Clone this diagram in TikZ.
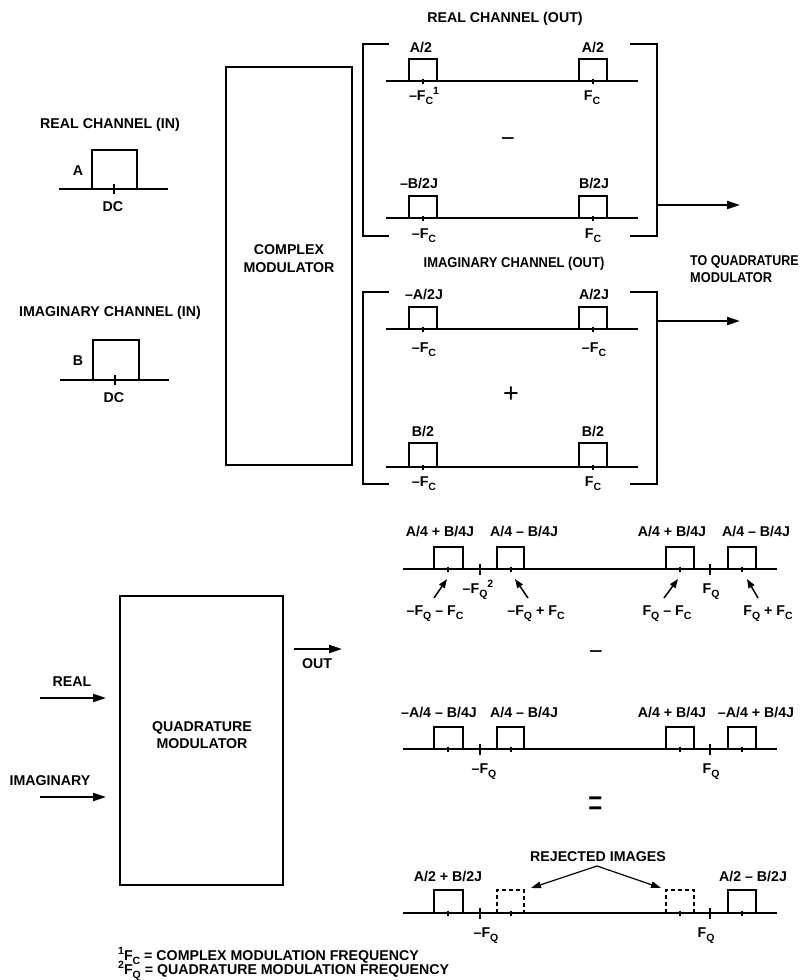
\documentclass[tikz,border=0pt]{standalone}
\usepackage{fontspec}
\usepackage{graphicx}
\setmainfont{Liberation Sans}
\newfontfamily\opfont{Liberation Sans}
\usetikzlibrary{arrows.meta}
\newcommand\lbfont{\fontsize{14.2}{18}\selectfont\bfseries}
\newcommand\sbs[1]{\raisebox{-0.3em}{\fontsize{10.5}{10}\selectfont\bfseries #1}}
\newcommand\sps[1]{\raisebox{0.42em}{\fontsize{10.5}{10}\selectfont\bfseries #1}}
\newcommand\pls[4]{\draw[ln] (#1,#4) -- (#1,#3) -- (#2,#3) -- (#2,#4);}
\newcommand\dpls[4]{\draw[ln,dashed,dash pattern=on 4pt off 3pt] (#1,#4) -- (#1,#3) -- (#2,#3) -- (#2,#4);}
\newcommand\stk[2]{\draw[tk] (#1,#2-2.5) -- (#1,#2+2.5);}
\newcommand\btk[2]{\draw[tk,line width=1.4pt] (#1,#2-5.5) -- (#1,#2+5.5);}
\begin{document}
\begin{tikzpicture}[x=1pt,y=-1pt,
  lbl/.style={font=\lbfont, inner sep=0pt, align=center},
  ln/.style={line width=2pt},
  tk/.style={line width=1.1pt},
  arr/.style={line width=2pt, -{Triangle[length=13pt,width=8pt]}},
  sarr/.style={line width=1.5pt, -{Triangle[length=9pt,width=6.5pt]}},
  rarr/.style={line width=1.2pt, -{Triangle[length=10pt,width=6.5pt]}},
  op/.style={font=\opfont\fontsize{24}{24}\selectfont, inner sep=0pt}]
\useasboundingbox (0,0) rectangle (807,980);

% ---------- input spectra ----------
\node[lbl] (rin) at (110,125) {REAL CHANNEL (IN)};
\draw[ln] (59,189) -- (168,189);
\pls{92}{137}{150}{189}
\draw[tk] (114,184) -- (114,194);
\node[lbl,anchor=base] (ra) at (78,175) {A};
\node[lbl,anchor=base] (rdc) at (113,211) {DC};

\node[lbl] (iin) at (110,313) {IMAGINARY CHANNEL (IN)};
\draw[ln] (60,380) -- (169,380);
\pls{93}{139}{340}{380}
\draw[tk] (115,375) -- (115,385);
\node[lbl,anchor=base] (ib) at (78,365) {B};
\node[lbl,anchor=base] (idc) at (114,402) {DC};

% ---------- complex modulator ----------
\node[draw,ln,minimum width=126pt,minimum height=398pt,inner sep=0pt] (cm) at (289,266) {};
\node[lbl] (cmlbl) at (289,259) {COMPLEX\\MODULATOR};

% ---------- real channel out ----------
\node[lbl] (rout) at (505,19) {REAL CHANNEL (OUT)};
\draw[ln] (389,44) -- (363,44) -- (363,236) -- (389,236);
\draw[ln] (630,44) -- (657,44) -- (657,236) -- (630,236);
\draw[ln] (386,81) -- (638,81);
\pls{409}{437}{59}{81}
\pls{579}{607}{59}{81}
\stk{423}{81}\stk{593}{81}
\node[lbl,anchor=base] (r1) at (421,52) {A/2};
\node[lbl,anchor=base] (r2) at (593,52) {A/2};
\node[lbl,anchor=base] (r3) at (424,100) {–F\sbs{C}\sps{1}};
\node[lbl,anchor=base] (r4) at (592,100) {F\sbs{C}};
\node[op] (rminus) at (508,142) {−};
\draw[ln] (386,218) -- (638,218);
\pls{409}{437}{196}{218}
\pls{579}{607}{196}{218}
\stk{423}{218}\stk{593}{218}
\node[lbl,anchor=base] (r5) at (419,188) {–B/2J};
\node[lbl,anchor=base] (r6) at (594,188) {B/2J};
\node[lbl,anchor=base] (r7) at (424,238) {–F\sbs{C}};
\node[lbl,anchor=base] (r8) at (593,238) {F\sbs{C}};
\coordinate (rb) at (657,205);
\coordinate (rq) at (740,205);
\draw[arr] (rb) -- (rq);

% ---------- imaginary channel out ----------
\node[lbl] (iout) at (514,264) {\scalebox{0.915}[1]{IMAGINARY CHANNEL (OUT)}};
\node[lbl,anchor=base west] (tq1) at (690,265) {\scalebox{0.88}[1]{TO QUADRATURE}};
\node[lbl,anchor=base west] (tq2) at (690,282) {\scalebox{0.9}[1]{MODULATOR}};
\draw[ln] (389,292) -- (363,292) -- (363,484) -- (389,484);
\draw[ln] (630,292) -- (657,292) -- (657,484) -- (630,484);
\draw[ln] (386,329) -- (638,329);
\pls{409}{437}{307}{329}
\pls{579}{607}{307}{329}
\stk{423}{329}\stk{593}{329}
\node[lbl,anchor=base] (i1) at (424,299) {–A/2J};
\node[lbl,anchor=base] (i2) at (594,299) {A/2J};
\node[lbl,anchor=base] (i3) at (424,352) {–F\sbs{C}};
\node[lbl,anchor=base] (i4) at (594,352) {–F\sbs{C}};
\node[op,font=\opfont\fontsize{27}{27}\selectfont] (iplus) at (511,395) {+};
\draw[ln] (386,467) -- (638,467);
\pls{409}{437}{443}{467}
\pls{579}{607}{443}{467}
\stk{423}{467}\stk{593}{467}
\node[lbl,anchor=base] (i5) at (423,436) {B/2};
\node[lbl,anchor=base] (i6) at (593,436) {B/2};
\node[lbl,anchor=base] (i7) at (424,486) {–F\sbs{C}};
\node[lbl,anchor=base] (i8) at (593,486) {F\sbs{C}};
\coordinate (ib0) at (657,321);
\coordinate (iq) at (740,321);
\draw[arr] (ib0) -- (iq);

% ---------- quadrature modulator ----------
\node[draw,ln,minimum width=163pt,minimum height=289pt,inner sep=0pt] (qm) at (201.5,740.5) {};
\node[lbl,font=\fontsize{14.2}{17}\selectfont\bfseries] (qmlbl) at (202,735.5) {QUADRATURE\\MODULATOR};
\node[lbl] (real) at (72,682) {REAL};
\coordinate (re0) at (40,698);
\coordinate (re1) at (106,698);
\draw[arr] (re0) -- (re1);
\node[lbl] (imag) at (50,781) {IMAGINARY};
\coordinate (im0) at (40,797);
\coordinate (im1) at (106,797);
\draw[arr] (im0) -- (im1);
\coordinate (out0) at (294,649);
\coordinate (out1) at (342,649);
\draw[arr] (out0) -- (out1);
\node[lbl] (outlbl) at (317,664) {OUT};

% ---------- spectrum row 1 ----------
\node[lbl,anchor=base] (q1) at (440,536) {A/4 + B/4J};
\node[lbl,anchor=base] (q2) at (524,536) {A/4 – B/4J};
\node[lbl,anchor=base] (q3) at (672,536) {A/4 + B/4J};
\node[lbl,anchor=base] (q4) at (756,536) {A/4 – B/4J};
\draw[ln] (403,569) -- (777,569);
\pls{434}{463}{547}{569}\pls{497}{524}{547}{569}\pls{666}{694}{547}{569}\pls{728}{756}{547}{569}
\stk{448}{569}\stk{511}{569}\stk{680}{569}\stk{742}{569}
\btk{480}{569}\btk{710}{569}
\node[lbl,anchor=base] (fq1) at (478,593) {–F\sbs{Q}\sps{2}};
\node[lbl,anchor=base] (fq2) at (711,593) {F\sbs{Q}};
\node[lbl,anchor=base] (a1) at (435,615) {–F\sbs{Q} – F\sbs{C}};
\node[lbl,anchor=base] (a2) at (536,615) {–F\sbs{Q} + F\sbs{C}};
\node[lbl,anchor=base] (a3) at (667,615) {F\sbs{Q} – F\sbs{C}};
\node[lbl,anchor=base] (a4) at (768,615) {F\sbs{Q} + F\sbs{C}};
\coordinate (p1) at (434,598);\coordinate (t1) at (447,579);
\coordinate (p2) at (528,598);\coordinate (t2) at (515,579);
\coordinate (p3) at (664,598);\coordinate (t3) at (678,579);
\coordinate (p4) at (758,598);\coordinate (t4) at (747,579);
\draw[sarr] (p1) -- (t1);
\draw[sarr] (p2) -- (t2);
\draw[sarr] (p3) -- (t3);
\draw[sarr] (p4) -- (t4);
\node[op] (qminus) at (596,655) {−};

% ---------- spectrum row 2 ----------
\node[lbl,anchor=base] (s1) at (439,717) {–A/4 – B/4J};
\node[lbl,anchor=base] (s2) at (524,717) {A/4 – B/4J};
\node[lbl,anchor=base] (s3) at (672,717) {A/4 + B/4J};
\node[lbl,anchor=base] (s4) at (756,717) {–A/4 + B/4J};
\draw[ln] (403,749) -- (777,749);
\pls{434}{463}{727}{749}\pls{497}{524}{727}{749}\pls{666}{694}{727}{749}\pls{728}{756}{727}{749}
\stk{448}{749}\stk{511}{749}\stk{680}{749}\stk{742}{749}
\btk{480}{749}\btk{710}{749}
\node[lbl,anchor=base] (fq3) at (484,773) {–F\sbs{Q}};
\node[lbl,anchor=base] (fq4) at (711,773) {F\sbs{Q}};
\node[op,font=\opfont\fontsize{40}{40}\selectfont] (qeq) at (596,807) {\scalebox{0.62}[1]{=}};

% ---------- result ----------
\node[lbl] (rej) at (598,857) {REJECTED IMAGES};
\node[lbl,anchor=base] (u1) at (448,881) {A/2 + B/2J};
\node[lbl,anchor=base] (u2) at (753,881) {A/2 – B/2J};
\draw[ln] (403,913) -- (777,913);
\pls{434}{463}{890}{913}
\dpls{497}{524}{890}{913}
\dpls{666}{694}{890}{913}
\pls{728}{756}{890}{913}
\stk{448}{913}\stk{511}{913}\stk{680}{913}\stk{742}{913}
\btk{480}{913}\btk{710}{913}
\node[lbl,anchor=base] (fq5) at (486,937) {–F\sbs{Q}};
\node[lbl,anchor=base] (fq6) at (706,937) {F\sbs{Q}};
\coordinate (apex) at (597,866);
\coordinate (ti1) at (531,888);
\coordinate (ti2) at (661,888);
\draw[rarr] (apex) -- (ti1);
\draw[rarr] (apex) -- (ti2);

% ---------- footnotes ----------
\node[lbl,anchor=base west] (fn1) at (118,960) {\sps{1}F\sbs{C} = COMPLEX MODULATION FREQUENCY};
\node[lbl,anchor=base west] (fn2) at (118,974.5) {\sps{2}F\sbs{Q} = QUADRATURE MODULATION FREQUENCY};
\end{tikzpicture}
\end{document}
